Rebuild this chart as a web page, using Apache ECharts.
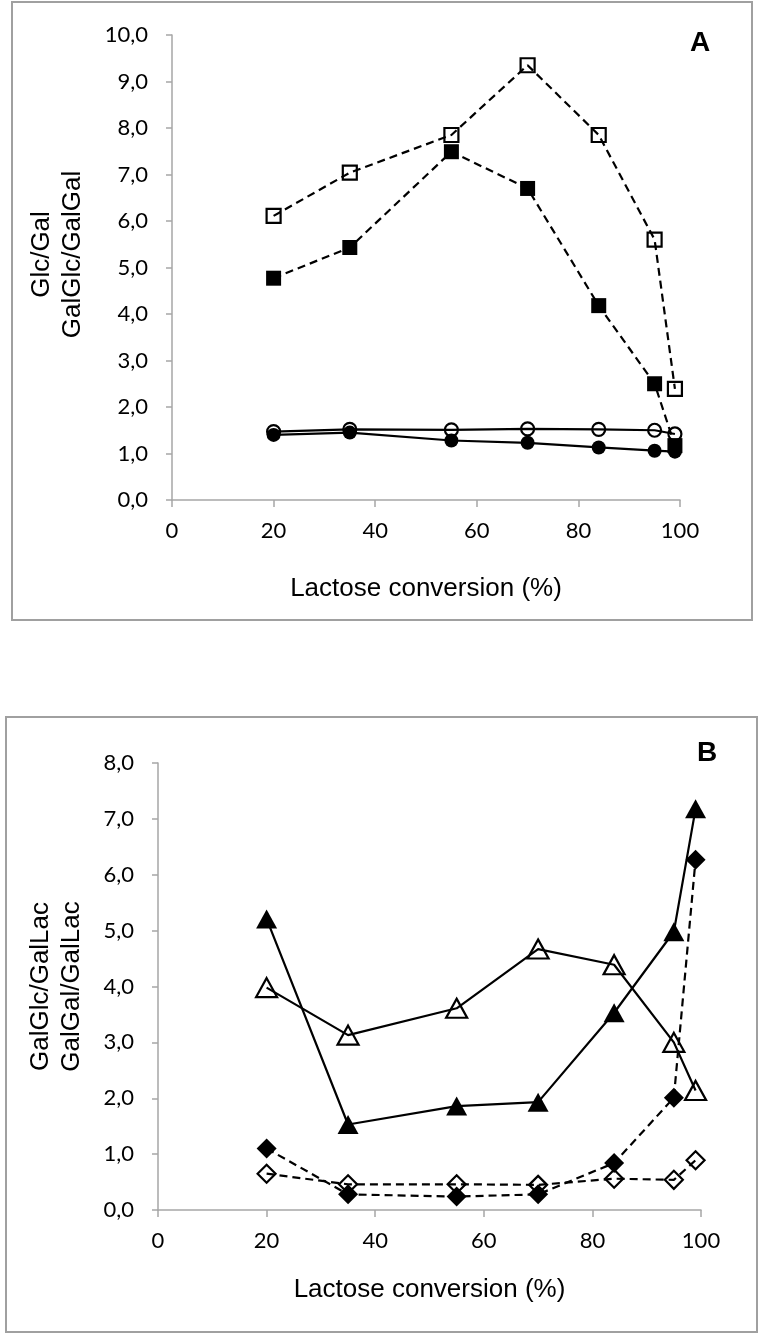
<!DOCTYPE html>
<html>
<head>
<meta charset="utf-8">
<script src="https://cdn.jsdelivr.net/npm/echarts@6/dist/echarts.min.js"></script>
<style>
  html, body { margin: 0; padding: 0; background: #fff; }
  #chart { width: 767px; height: 1339px; }
</style>
</head>
<body>
<div id="chart"></div>
<script>
// Shared x values (lactose conversion, %)
const conversion = [20, 35, 55, 70, 84, 95, 99];

// Panel A
const aOpenSquare   = [6.11, 7.04, 7.85, 9.35, 7.85, 5.60, 2.39];
const aFilledSquare = [4.77, 5.43, 7.49, 6.70, 4.18, 2.50, 1.17];
const aOpenCircle   = [1.47, 1.52, 1.51, 1.53, 1.52, 1.50, 1.42];
const aFilledCircle = [1.40, 1.45, 1.28, 1.23, 1.13, 1.06, 1.04];

// Panel B
const bFilledTriangle = [5.21, 1.53, 1.86, 1.93, 3.53, 4.98, 7.18];
const bOpenTriangle   = [3.98, 3.13, 3.61, 4.67, 4.39, 3.00, 2.14];
const bFilledDiamond  = [1.10, 0.28, 0.24, 0.28, 0.84, 2.01, 6.27];
const bOpenDiamond    = [0.65, 0.46, 0.46, 0.45, 0.56, 0.54, 0.89];

const xName = 'Lactose conversion (%)';
const yNameA = 'Glc/Gal\nGalGlc/GalGal';
const yNameB = 'GalGlc/GalLac\nGalGal/GalLac';

const pairs = arr => arr.map((v, i) => [conversion[i], v]);
const comma = v => v.toFixed(1).replace('.', ',');

const axisGray = '#a6a6a6';
const tickFont = 'Lato, "Open Sans", sans-serif';
const nameFont = '"Liberation Sans", Arial, sans-serif';

function xAxis(gridIndex, gap) {
  return {
    type: 'value', gridIndex, min: 0, max: 100, interval: 20,
    name: xName, nameLocation: 'middle', nameGap: gap,
    nameTextStyle: { fontFamily: nameFont, fontSize: 26, color: '#000' },
    axisLine: { show: true, lineStyle: { color: axisGray, width: 1.5 } },
    axisTick: { show: true, inside: false, length: 7, lineStyle: { color: axisGray, width: 1.5 } },
    axisLabel: { fontFamily: tickFont, fontSize: 22, color: '#000', margin: 20 },
    splitLine: { show: false }
  };
}
function yAxis(gridIndex, max, name, gap, pad) {
  return {
    type: 'value', gridIndex, min: 0, max: max, interval: 1,
    name: name, nameLocation: 'middle', nameGap: gap, nameRotate: 90,
    nameTextStyle: { fontFamily: nameFont, fontSize: 26, color: '#000', lineHeight: 31, padding: pad },
    axisLine: { show: true, lineStyle: { color: axisGray, width: 1.5 } },
    axisTick: { show: true, inside: false, length: 6, lineStyle: { color: axisGray, width: 1.5 } },
    axisLabel: { fontFamily: tickFont, fontSize: 22, color: '#000', margin: 24, formatter: comma },
    splitLine: { show: false }
  };
}

function series(idx, data, symbol, size, filled, dashed, z) {
  return {
    type: 'line', xAxisIndex: idx, yAxisIndex: idx,
    data: pairs(data), symbol: symbol, symbolSize: size, showSymbol: true,
    z: z,
    lineStyle: { color: '#000', width: 2.2, type: dashed ? [8, 5] : 'solid' },
    itemStyle: { color: filled ? '#000' : 'rgba(0,0,0,0)', borderColor: '#000', borderWidth: filled ? 0 : 2.2 },
    emphasis: { disabled: true },
    animation: false
  };
}

const chart = echarts.init(document.getElementById('chart'), null, { renderer: 'canvas' });
chart.setOption({
  backgroundColor: '#fff',
  animation: false,
  title: [
    { text: 'A', left: 685, top: 24, textStyle: { fontFamily: nameFont, fontWeight: 'bold', fontSize: 28, color: '#000' } },
    { text: 'B', left: 692, top: 734, textStyle: { fontFamily: nameFont, fontWeight: 'bold', fontSize: 28, color: '#000' } }
  ],
  graphic: [
    { type: 'rect', shape: { x: 12, y: 2, width: 740, height: 618 }, style: { fill: 'none', stroke: '#a0a0a0', lineWidth: 2 }, z: -1 },
    { type: 'rect', shape: { x: 6, y: 717, width: 751, height: 615 }, style: { fill: 'none', stroke: '#a0a0a0', lineWidth: 2 }, z: -1 }
  ],
  grid: [
    { left: 172, right: 87, top: 35, bottom: 839, containLabel: false },
    { left: 158, right: 66, top: 763, bottom: 129, containLabel: false }
  ],
  xAxis: [xAxis(0, 76), xAxis(1, 67)],
  yAxis: [yAxis(0, 10, yNameA, 84, [0, 0, 0, 26]), yAxis(1, 8, yNameB, 71, [0, 0, 0, 0])],
  series: [
    series(0, aOpenCircle, 'circle', 13, false, false, 2),
    series(0, aFilledCircle, 'circle', 14, true, false, 3),
    series(0, aFilledSquare, 'rect', 15, true, true, 4),
    series(0, aOpenSquare, 'rect', 14, false, true, 5),
    series(1, bOpenDiamond, 'diamond', 18, false, true, 2),
    series(1, bFilledDiamond, 'diamond', 20, true, true, 3),
    series(1, bOpenTriangle, 'triangle', [21, 19], false, false, 4),
    series(1, bFilledTriangle, 'triangle', [21, 19], true, false, 5)
  ]
});
</script>
</body>
</html>
